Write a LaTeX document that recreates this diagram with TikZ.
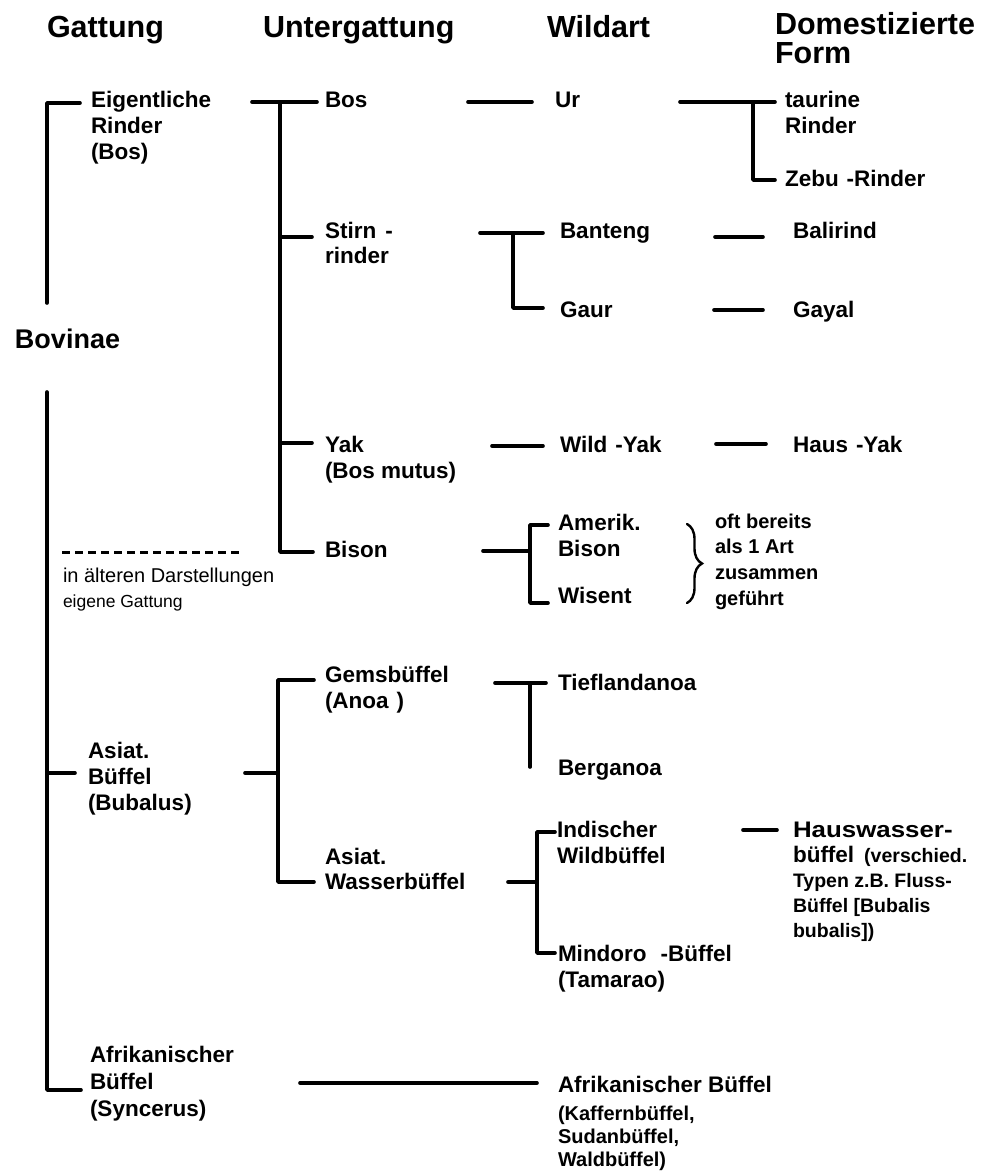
\documentclass[tikz,border=0pt]{standalone}
\usepackage{fontspec}
\setmainfont{Liberation Sans}
\usetikzlibrary{decorations.pathreplacing}
\newcommand\fsz[2]{\fontsize{#1}{#2}\selectfont}
% left-aligned lines whose baseline is the first line
\newcommand\rows[2]{\vtop{\baselineskip=#1\relax\lineskiplimit=-30pt\lineskip=0pt\halign{##\hfil\cr#2\crcr}}}
\tikzset{
  ln/.style={line width=3.6pt, line cap=round, line join=round},
  lbl/.style={anchor=base west, inner sep=0pt, outer sep=0pt, font=\bfseries\fsz{22.5}{26}},
  head/.style={lbl, font=\bfseries\fsz{30.5}{29}},
  note/.style={lbl, font=\fsz{20}{24}},
  sm/.style={lbl, font=\bfseries\fsz{20}{25.7}},
}
\begin{document}
\begin{tikzpicture}[x=1pt,y=-1pt]
\useasboundingbox (0,0) rectangle (981,1171);

% column headings
\node[head] (hG) at (47,37) {Gattung};
\node[head] (hU) at (263,37) {Untergattung};
\node[head] (hW) at (547,37) {Wildart};
\node[head] (hD) at (775,34) {\rows{29pt}{Domestizierte\cr Form}};

% genera
\node[lbl] (eig) at (91,107) {\rows{26.3pt}{Eigentliche\cr Rinder\cr (Bos)}};
\node[lbl, font=\bfseries\fsz{27}{30}] (bov) at (15,348) {Bovinae};
\node[lbl] (asb) at (88,758) {\rows{26pt}{Asiat.\cr Büffel\cr (Bubalus)}};
\node[lbl] (afb) at (90,1062) {\rows{27pt}{Afrikanischer\cr Büffel\cr (Syncerus)}};

\coordinate (gTe) at (80,103); \coordinate (gT) at (47,103); \coordinate (gU) at (47,303);
\coordinate (gL) at (47,392); \coordinate (gB) at (47,1090); \coordinate (gBe) at (81,1090);
\coordinate (gM) at (47,773); \coordinate (gMe) at (75,773);
\draw[ln] (gTe) -- (gT) -- (gU);
\draw[ln] (gL) -- (gB) -- (gBe);
\draw[ln] (gM) -- (gMe);

% bison as a former genus
\coordinate (d1) at (62,552); \coordinate (d2) at (243,552);
\draw[line width=3pt, dash pattern=on 8pt off 5pt] (d1) -- (d2);
\node[note] (alt1) at (63,582) {in älteren Darstellungen};
\node[note, font=\fsz{17.5}{20}] (alt2) at (63,607) {eigene Gattung};

% subgenera of Bos
\coordinate (uTl) at (252,102); \coordinate (uT) at (280,102); \coordinate (uTr) at (317,102);
\coordinate (uS) at (280,237); \coordinate (uSr) at (312,237);
\coordinate (uY) at (280,443); \coordinate (uYr) at (312,443);
\coordinate (uB) at (280,552); \coordinate (uBr) at (313,552);
\draw[ln] (uTl) -- (uTr);
\draw[ln] (uT) -- (uB) -- (uBr);
\draw[ln] (uS) -- (uSr);
\draw[ln] (uY) -- (uYr);
\node[lbl] (bos) at (325,107) {Bos};
\node[lbl] (stirn) at (325,238) {\rows{25pt}{Stirn\hspace{9pt}-\cr rinder}};
\node[lbl] (yak) at (325,452) {\rows{26pt}{Yak\cr (Bos mutus)}};
\node[lbl] (bison) at (325,557) {Bison};

% subgenera of Bubalus
\coordinate (bMl) at (245,773); \coordinate (bM) at (278,773);
\coordinate (bTr) at (314,680); \coordinate (bT) at (278,680);
\coordinate (bB) at (278,882); \coordinate (bBr) at (314,882);
\draw[ln] (bMl) -- (bM);
\draw[ln] (bTr) -- (bT) -- (bB) -- (bBr);
\node[lbl] (gems) at (325,682) {\rows{26pt}{Gemsbüffel\cr (Anoa\hspace{8pt})}};
\node[lbl] (wass) at (325,864) {\rows{25pt}{Asiat.\cr Wasserbüffel}};

% wild species
\coordinate (w1a) at (468,102); \coordinate (w1b) at (532,102);
\draw[ln] (w1a) -- (w1b);
\node[lbl] (ur) at (555,107) {Ur};

\coordinate (s1) at (480,233); \coordinate (s2) at (513,233); \coordinate (s3) at (543,233);
\coordinate (s4) at (513,308); \coordinate (s5) at (543,308);
\draw[ln] (s1) -- (s3);
\draw[ln] (s2) -- (s4) -- (s5);
\node[lbl] (bant) at (560,238) {Banteng};
\node[lbl] (gaur) at (560,317) {Gaur};

\coordinate (y1) at (492,446); \coordinate (y2) at (543,446);
\draw[ln] (y1) -- (y2);
\node[lbl] (wyak) at (560,452) {Wild\hspace{8pt}-Yak};

\coordinate (bi1) at (483,551); \coordinate (bi2) at (530,551);
\coordinate (bi3) at (548,525); \coordinate (bi4) at (530,525);
\coordinate (bi5) at (530,603); \coordinate (bi6) at (548,603);
\draw[ln] (bi1) -- (bi2);
\draw[ln] (bi3) -- (bi4) -- (bi5) -- (bi6);
\node[lbl] (amer) at (558,530) {\rows{26pt}{Amerik.\cr Bison}};
\node[lbl] (wis) at (558,603) {Wisent};

\coordinate (br1) at (687,524); \coordinate (br2) at (687,603);
\draw[line width=2.4pt, line cap=round, decorate, decoration={brace, amplitude=15pt}] (br1) -- (br2);
\node[sm] (oft) at (715,528) {\rows{25.7pt}{oft bereits\cr als 1 Art\cr zusammen\cr geführt}};

\coordinate (t1) at (495,683); \coordinate (t2) at (530,683); \coordinate (t3) at (546,683);
\coordinate (t4) at (530,767);
\draw[ln] (t1) -- (t3);
\draw[ln] (t2) -- (t4);
\node[lbl] (tief) at (558,690) {Tieflandanoa};
\node[lbl] (berg) at (558,775) {Berganoa};

\coordinate (i1) at (508,882); \coordinate (i2) at (537,882);
\coordinate (i3) at (555,832); \coordinate (i4) at (537,832);
\coordinate (i5) at (537,953); \coordinate (i6) at (555,953);
\draw[ln] (i1) -- (i2);
\draw[ln] (i3) -- (i4) -- (i5) -- (i6);
\node[lbl] (ind) at (557,837) {\rows{26pt}{Indischer\cr Wildbüffel}};
\node[lbl] (mind) at (558,961) {\rows{26pt}{Mindoro\hspace{14pt}-Büffel\cr (Tamarao)}};

\coordinate (a1) at (300,1083); \coordinate (a2) at (537,1083);
\draw[ln] (a1) -- (a2);
\node[lbl] (afr) at (558,1092) {\rows{23pt}{Afrikanischer Büffel\cr\noalign{\vskip5pt}
  \fsz{20}{23}(Kaffernbüffel,\cr \fsz{20}{23}Sudanbüffel,\cr \fsz{20}{23}Waldbüffel)}};

% domesticated forms
\coordinate (f1) at (680,102); \coordinate (f2) at (753,102); \coordinate (f3) at (775,102);
\coordinate (f4) at (753,180); \coordinate (f5) at (775,180);
\draw[ln] (f1) -- (f3);
\draw[ln] (f2) -- (f4) -- (f5);
\node[lbl] (tau) at (785,107) {\rows{26pt}{taurine\cr Rinder}};
\node[lbl] (zebu) at (785,186) {Zebu\hspace{8pt}-Rinder};

\coordinate (k1) at (715,237); \coordinate (k2) at (763,237);
\draw[ln] (k1) -- (k2);
\node[lbl] (bali) at (793,238) {Balirind};
\coordinate (k3) at (714,310); \coordinate (k4) at (763,310);
\draw[ln] (k3) -- (k4);
\node[lbl] (gayal) at (793,317) {Gayal};
\coordinate (k5) at (716,444); \coordinate (k6) at (766,444);
\draw[ln] (k5) -- (k6);
\node[lbl] (hyak) at (793,452) {Haus\hspace{8pt}-Yak};

\coordinate (k7) at (743,830); \coordinate (k8) at (777,830);
\draw[ln] (k7) -- (k8);
\node[lbl] (hw) at (793,837) {\rows{25pt}{\scalebox{1.15}[1]{Hauswasser-}\cr
  büffel\hspace{10pt}{\fsz{19.5}{25}(verschied.}\cr
  \fsz{19.5}{25}Typen z.B. Fluss-\cr
  \fsz{19.5}{25}Büffel [Bubalis\cr
  \fsz{19.5}{25}bubalis])}};
\end{tikzpicture}
\end{document}
